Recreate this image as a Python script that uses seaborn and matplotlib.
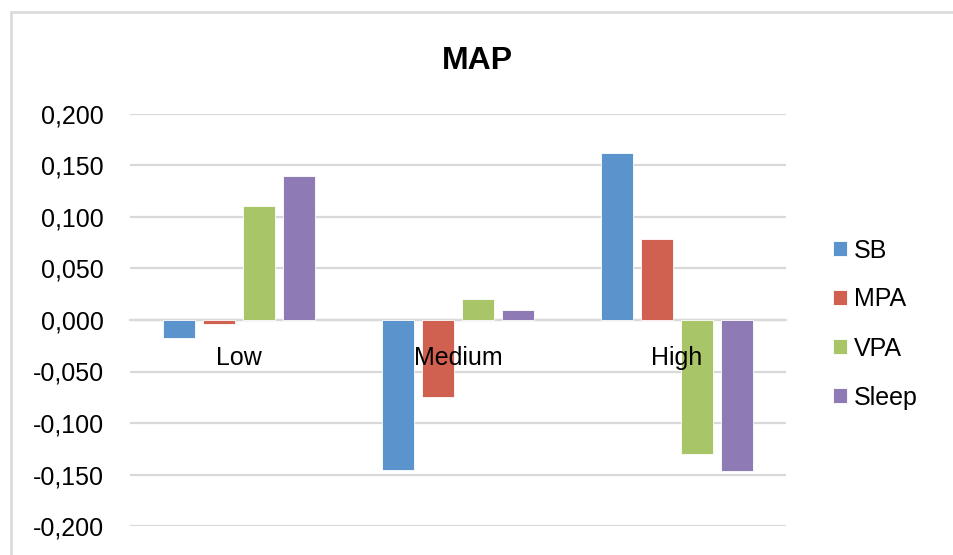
import numpy as np
import pandas as pd
import matplotlib
matplotlib.use("Agg")
import matplotlib.pyplot as plt
from matplotlib.ticker import FuncFormatter, MultipleLocator
from matplotlib.lines import Line2D
import seaborn as sns

sns.set_style("white")
plt.rcParams['font.family'] = ['Liberation Sans', 'DejaVu Sans']
plt.rcParams['text.color'] = 'black'
plt.rcParams['xtick.color'] = 'black'
plt.rcParams['ytick.color'] = 'black'

# values
categories = ['Low', 'Medium', 'High']
series = ['SB', 'MPA', 'VPA', 'Sleep']
sb = [-0.017, -0.146, 0.162]
mpa = [-0.004, -0.075, 0.079]
vpa = [0.111, 0.020, -0.130]
sleep = [0.140, 0.010, -0.147]
colors = ['#5b93cc', '#d0604f', '#a8c567', '#8e7ab5']

df = pd.DataFrame({'group': categories, 'SB': sb, 'MPA': mpa, 'VPA': vpa, 'Sleep': sleep})
melted = pd.melt(df, id_vars=['group'], value_vars=series, var_name='series', value_name='value')

fig = plt.figure(figsize=(9.54, 5.55), dpi=100)
ax = fig.add_axes([130 / 954, 1 - 526 / 555, 656 / 954, 412 / 555])

grid_col = '#d9d9d9'
sns.barplot(data=melted, x='group', y='value', hue='series', order=categories,
            hue_order=series, palette=dict(zip(series, colors)), saturation=1,
            width=0.732, gap=0.2, edgecolor='white', linewidth=0.6, ax=ax, zorder=3)

ax.set_ylim(-0.2, 0.2)
ax.set_xlim(-0.5, 2.5)
ax.yaxis.set_major_locator(MultipleLocator(0.05))
ax.yaxis.set_major_formatter(FuncFormatter(lambda v, p: ('%.3f' % v).replace('.', ',').replace('-0,000', '0,000')))
ax.grid(axis='y', color=grid_col, linewidth=1.6, zorder=0)
ax.set_axisbelow(True)

for s in ['left', 'right', 'top']:
    ax.spines[s].set_visible(False)
ax.spines['bottom'].set_position(('data', 0))
ax.spines['bottom'].set_color(grid_col)
ax.spines['bottom'].set_linewidth(1.6)
ax.spines['bottom'].set_zorder(1)

ax.tick_params(axis='y', length=0, pad=19, labelsize=18, labelcolor='black')
ax.tick_params(axis='x', length=0, pad=19, labelsize=18, labelcolor='black')
ax.xaxis.set_zorder(5)  # category labels sit on top of the bars
ax.set_xlabel('')
ax.set_ylabel('')

fig.text(0.5, 1 - 61 / 555, 'MAP', ha='center', va='center', fontsize=23,
         fontweight='bold', color='black')

ax.legend(loc='center left', bbox_to_anchor=(833 / 954, 1 - 324 / 555),
          bbox_transform=fig.transFigure, frameon=False, fontsize=18,
          handlelength=0.55, handleheight=0.55, handletextpad=0.3,
          labelspacing=1.0, borderpad=0, borderaxespad=0, labelcolor='black')

# light frame around the chart area (cropped at right and bottom)
fig.add_artist(Line2D([11 / 954, 11 / 954], [0, 1 - 12 / 555], color='#dcdcdc', linewidth=2, transform=fig.transFigure))
fig.add_artist(Line2D([11 / 954, 1], [1 - 12 / 555, 1 - 12 / 555], color='#dcdcdc', linewidth=2, transform=fig.transFigure))

fig.savefig('out.png', dpi=100)
